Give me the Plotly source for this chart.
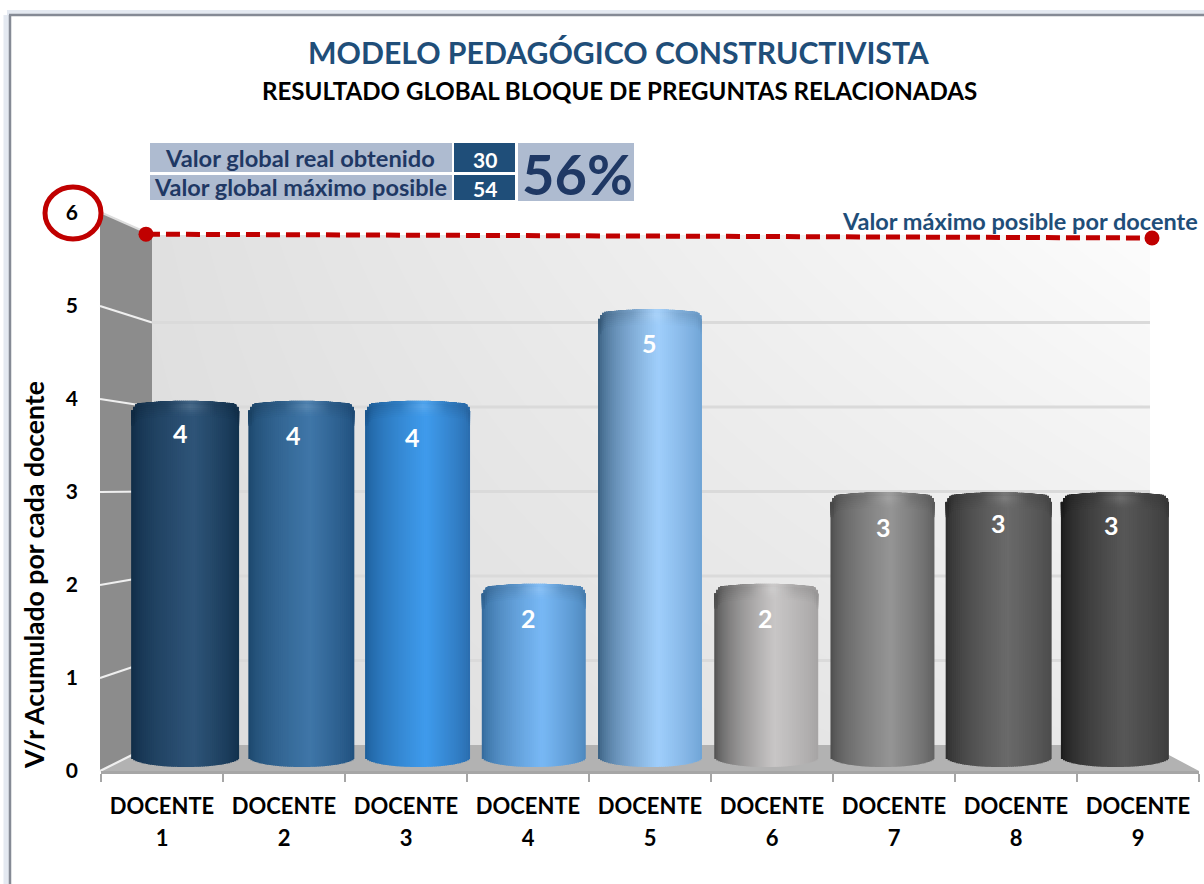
import plotly.graph_objects as go

W, H = 1204, 884

# ---- data ----
docentes = ["DOCENTE 1", "DOCENTE 2", "DOCENTE 3", "DOCENTE 4", "DOCENTE 5",
            "DOCENTE 6", "DOCENTE 7", "DOCENTE 8", "DOCENTE 9"]
valores = [4, 4, 4, 2, 5, 2, 3, 3, 3]
y_ticks = [0, 1, 2, 3, 4, 5, 6]
max_x = [-0.5, 8.5]
max_y = [6.01, 5.965]
valor_real = 30
valor_maximo = 54
porcentaje = "56%"

# ---- styles ----
color_left = ["#0e2a44", "#1a4468", "#1b5a95", "#2f6596", "#34597a", "#4a4a4a", "#4a4a4a", "#2a2a2a", "#181818"]
color_mid = ["#2e5478", "#3f76a8", "#3f9bec", "#78b8f5", "#9fcefb", "#c8c6c6", "#959595", "#6a6a6a", "#575757"]
color_right = ["#11304c", "#1f4f7d", "#2a6cad", "#4d87bc", "#6fa3d4", "#a5a3a3", "#606060", "#4a4a4a", "#3c3c3c"]
bar_px = [108, 106, 105, 104, 104, 104, 104, 106, 108]
label_dx = [-5, -8, -5, -5, -1, -1, 1, 0, -3]
label_dy = [-32, -34, -36, -34, -34, -34, -35, -31, -33]

NAVY = "#1f3864"
BLUE = "#1f4e79"
RED = "#c00000"
BOX = "#aebbd0"
FONT = "Lato"

PX_UNIT_X = 116.25
PX_UNIT_Y = 91.5
WALL_UNIT = 84.5
N = 52

tick_labels = ["<span style='font-size:22px'>%s</span><br><span style='font-size:22px'>%s</span>"
               % tuple(d.split(" ")) for d in docentes]


def fx(p):
    return p / W


def fy(p):
    return 1 - p / H


def rgb(h):
    return [int(h[i:i + 2], 16) for i in (1, 3, 5)]


def body_rgb(i, f):
    peak = 0.58
    if f < peak:
        s, a = (f / peak) ** 0.6, rgb(color_left[i])
    else:
        s, a = ((1 - f) / (1 - peak)) ** 0.8, rgb(color_right[i])
    m = rgb(color_mid[i])
    return [a[k] + (m[k] - a[k]) * s for k in range(3)]


def css(c):
    return "rgb(%d,%d,%d)" % tuple(min(255, max(0, round(v))) for v in c)


def top_drop(t):
    e = max(0.0, (abs(t) - 0.86) / 0.14)
    return 3.5 * t * t + 8.5 * e * e


def bottom_lift(t):
    return 10.0 * (1 - max(0.0, 1 - t * t) ** 0.5)


bx, by, bb, bo, bw, bc = [], [], [], [], [], []
for i, v in enumerate(valores):
    w_units = bar_px[i] / PX_UNIT_X
    step = w_units / N
    for j in range(N):
        f = (j + 0.5) / N
        t = 2 * f - 1
        lift = bottom_lift(t) / PX_UNIT_Y
        drop = top_drop(t) / PX_UNIT_Y
        bx.append(i)
        bb.append(lift)
        by.append(v - drop - lift)
        bo.append(-w_units / 2 + j * step)
        bw.append(step * (1.6 if j < N - 1 else 1.0))
        bc.append(css(body_rgb(i, f)))

# top cap of each cylinder: opaque layers, deepest first
cx, cy, cb, co, cw, cc = [], [], [], [], [], []
cap_layers = ((15, 0.985, 0.02), (13, 0.97, 0.04), (11, 0.955, 0.07), (9, 0.94, 0.10),
              (7, 0.925, 0.13), (5, 0.91, 0.12), (3, 0.90, 0.07), (1.5, 0.92, 0.10))
for depth, shade, shine in cap_layers:
    for i, v in enumerate(valores):
        w_units = bar_px[i] / PX_UNIT_X
        step = w_units / N
        for j in range(N):
            f = (j + 0.5) / N
            t = 2 * f - 1
            drop = top_drop(t) / PX_UNIT_Y
            d = depth / PX_UNIT_Y
            glow = max(0.0, 1 - abs(f - 0.55) / 0.22)
            base_c = body_rgb(i, f)
            mult = shade + (1 - shade) * glow
            c = [x * mult + (255 - x * mult) * shine * glow for x in base_c]
            cx.append(i)
            cb.append(v - drop - d)
            cy.append(d)
            co.append(-w_units / 2 + j * step)
            cw.append(step * (1.6 if j < N - 1 else 1.0))
            cc.append(css(c))

fig = go.Figure()

wall_top = 510 / WALL_UNIT
# back wall gradient
fig.add_trace(go.Heatmap(x=[-0.446, 8.482], y=[0, wall_top], z=[[221, 233], [224, 252]],
                         colorscale=[[0, "#000000"], [1, "#ffffff"]], zmin=0, zmax=255,
                         zsmooth="best", showscale=False, hoverinfo="skip",
                         xaxis="x", yaxis="y"))
# back wall gridlines
gx, gy = [], []
for k in y_ticks[1:-1]:
    gx += [-0.446, 8.482, None]
    gy += [k, k, None]
fig.add_trace(go.Scatter(x=gx, y=gy, mode="lines", line=dict(color="#dadada", width=3),
                         hoverinfo="skip", showlegend=False, xaxis="x", yaxis="y"))
# axis carrier
fig.add_trace(go.Scatter(x=tick_labels, y=valores, mode="lines", line=dict(width=0, color="rgba(0,0,0,0)"),
                         hoverinfo="skip", showlegend=False, xaxis="x2", yaxis="y2"))
# cylinders
fig.add_trace(go.Bar(x=bx, y=by, base=bb, offset=bo, width=bw, marker=dict(color=bc, line=dict(width=0)),
                     showlegend=False, xaxis="x3", yaxis="y3"))
fig.add_trace(go.Bar(x=cx, y=cy, base=cb, offset=co, width=cw, marker=dict(color=cc, line=dict(width=0)),
                     showlegend=False, hoverinfo="skip", xaxis="x3", yaxis="y3"))
# reference line
fig.add_trace(go.Scatter(x=max_x, y=max_y, mode="lines+markers",
                         line=dict(color=RED, width=5, dash="14px,6px"),
                         marker=dict(color=RED, size=15), showlegend=False,
                         xaxis="x4", yaxis="y4"))


def poly(points, fill):
    path = "M " + " L ".join("%.5f %.5f" % (fx(a), fy(b)) for a, b in points) + " Z"
    return dict(type="path", path=path, xref="paper", yref="paper", fillcolor=fill,
                line=dict(width=0), layer="below")


def seg(x0, y0, x1, y1, color, width, layer="below"):
    return dict(type="line", xref="paper", yref="paper", x0=fx(x0), y0=fy(y0), x1=fx(x1), y1=fy(y1),
                line=dict(color=color, width=width), layer=layer)


def rect(x0, y0, x1, y1, fill):
    return dict(type="rect", xref="paper", yref="paper", x0=fx(x0), y0=fy(y0), x1=fx(x1), y1=fy(y1),
                fillcolor=fill, line=dict(width=0), layer="below")


shapes = [
    # frame
    seg(7, 15, 7, H, "#e4e9f1", 7),
    seg(7, 13, W, 13, "#e4e9f1", 6),
    seg(10, 15, 10, H, "#858a95", 2.5),
    seg(9, 15, W, 15, "#858a95", 2.5),
    # side wall, floor
    poly([(100, 212), (152, 235), (152, 745), (100, 771)], "#8c8c8c"),
    poly([(101, 771), (152, 745), (1150, 745), (1199, 771)], "#b2b2b2"),
    seg(100, 212, 152, 235, "#dddddd", 2),
]
for k in y_ticks[:-1]:
    shapes.append(seg(100, 771 - 93 * k, 152, 745 - WALL_UNIT * k, "#efefef", 2.2))
shapes += [
    # info boxes
    rect(150, 143, 452, 172, BOX),
    rect(150, 175, 452, 200, BOX),
    rect(454, 143, 515, 172, BLUE),
    rect(454, 175, 515, 200, BLUE),
    rect(518, 143, 634, 201, BOX),
    # circle on the top tick
    dict(type="circle", xref="paper", yref="paper", x0=fx(45), x1=fx(101), y0=fy(239), y1=fy(187),
         line=dict(color=RED, width=5), fillcolor="rgba(0,0,0,0)", layer="above"),
]


def note(text, px, py, size, color, angle=0, xanchor="center"):
    return dict(text=text, x=fx(px), y=fy(py), xref="paper", yref="paper", showarrow=False,
                font=dict(family=FONT, size=size, color=color, weight=700),
                xanchor=xanchor, yanchor="middle", textangle=angle)


annotations = [
    note("MODELO PEDAGÓGICO CONSTRUCTIVISTA", 619, 52, 30.2, BLUE),
    note("RESULTADO GLOBAL BLOQUE DE PREGUNTAS RELACIONADAS", 619, 91, 24.1, "#000000"),
    note("Valor global real obtenido", 300, 158, 23.7, NAVY),
    note("Valor global máximo posible", 300, 187, 23.5, NAVY),
    note(str(valor_real), 485, 159, 21, "#ffffff"),
    note(str(valor_maximo), 485, 188, 21, "#ffffff"),
    note(porcentaje, 577, 174, 56, NAVY),
    note("Valor máximo posible por docente", 1020, 221, 23.5, BLUE),
    note("V/r Acumulado por cada docente", 34, 575, 26.6, "#000000", angle=-90),
]
for i, v in enumerate(valores):
    annotations.append(dict(text=str(v), x=i, y=v, xref="x3", yref="y3", showarrow=False,
                            xshift=label_dx[i], yshift=label_dy[i], yanchor="middle",
                            font=dict(family=FONT, size=25, color="#ffffff", weight=700)))

fig.update_layout(
    template="none",
    width=W, height=H, margin=dict(l=0, r=0, t=0, b=0, pad=0), autosize=False,
    paper_bgcolor="#ffffff", plot_bgcolor="rgba(0,0,0,0)", barmode="overlay", showlegend=False,
    font=dict(family=FONT),
    shapes=shapes, annotations=annotations,
    xaxis=dict(domain=[fx(152), fx(1150)], range=[-0.446, 8.482], visible=False, anchor="y"),
    yaxis=dict(domain=[fy(745), fy(235)], range=[0, wall_top], visible=False, anchor="x"),
    xaxis2=dict(domain=[fx(101), fx(1199)], type="category", categoryorder="array", categoryarray=tick_labels,
                range=[-0.5, 8.5], tickson="boundaries", ticks="outside", ticklen=8, tickwidth=2,
                tickcolor="#a6a6a6", showline=True, linecolor="#a6a6a6", linewidth=3, showgrid=False,
                tickfont=dict(family=FONT, size=24.6, color="#000000", weight=700), automargin=False,
                tickangle=0, anchor="y2", zeroline=False, ticklabelstandoff=10),
    yaxis2=dict(domain=[fy(771), fy(213)], range=[0, 6], tickvals=y_ticks, showgrid=False, zeroline=False,
                showline=False, ticks="", tickfont=dict(family=FONT, size=21, color="#000000", weight=700),
                anchor="x2", ticklabelstandoff=22, automargin=False),
    xaxis3=dict(domain=[fx(127), fx(1173)], range=[-0.5, 8.5], visible=False, anchor="y3"),
    yaxis3=dict(domain=[fy(767), fy(767 - 6.2 * PX_UNIT_Y)], range=[0, 6.2], visible=False, anchor="x3"),
    xaxis4=dict(domain=[fx(130), fx(1170)], range=[-0.643, 8.661], visible=False, anchor="y4"),
    yaxis4=dict(domain=[fy(745), fy(200)], range=[0, 6.412], visible=False, anchor="x4"),
)

fig.write_html("out.html", config=dict(displayModeBar=False),
               post_script="document.body.style.margin='0';document.body.style.overflow='hidden';")
